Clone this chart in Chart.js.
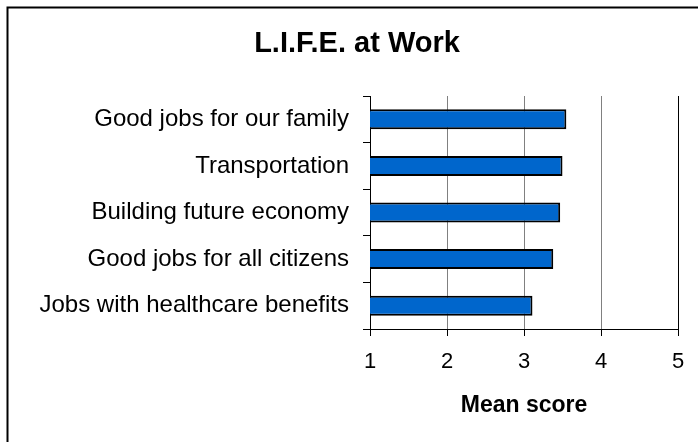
<!DOCTYPE html>
<html>
<head>
<meta charset="utf-8">
<title>L.I.F.E. at Work</title>
<script src="https://cdn.jsdelivr.net/npm/chart.js@4"></script>
<style>
  html, body { margin: 0; padding: 0; background: #fff; }
  canvas { display: block; }
</style>
</head>
<body>
<canvas id="chart" width="698" height="442"></canvas>
<script>
const categories = [
    'Good jobs for our family',
    'Transportation',
    'Building future economy',
    'Good jobs for all citizens',
    'Jobs with healthcare benefits'
];
const meanScores = [3.55, 3.50, 3.47, 3.38, 3.11];
const scoreTicks = [1, 2, 3, 4, 5];

const FONT = "'Liberation Sans', Arial, sans-serif";

// frame + title drawn on the canvas
const framePlugin = {
    id: 'frame',
    beforeDraw(chart) {
        const ctx = chart.ctx;
        ctx.save();
        ctx.fillStyle = '#fff';
        ctx.fillRect(0, 0, chart.width, chart.height);
        ctx.strokeStyle = '#000';
        ctx.lineWidth = 2;
        ctx.strokeRect(7.5, 7.5, 900, 900);
        ctx.fillStyle = '#000';
        ctx.font = 'bold 29px ' + FONT;
        ctx.textAlign = 'center';
        ctx.textBaseline = 'middle';
        ctx.fillText('L.I.F.E. at Work', 357, 44);
        ctx.restore();
    }
};

const ctx = document.getElementById('chart').getContext('2d');
new Chart(ctx, {
    type: 'bar',
    data: {
        labels: categories,
        datasets: [{
            label: 'Mean score',
            data: meanScores,
            backgroundColor: '#0066CC',
            borderColor: '#000',
            borderWidth: 2,
            borderSkipped: 'start',
            categoryPercentage: 1,
            barPercentage: 0.43
        }]
    },
    options: {
        indexAxis: 'y',
        responsive: false,
        animation: false,
        layout: { padding: { top: 96, right: 20, left: 0, bottom: 0 } },
        plugins: {
            legend: { display: false },
            tooltip: { enabled: false },
            title: { display: false }
        },
        scales: {
            x: {
                min: scoreTicks[0],
                max: scoreTicks[scoreTicks.length - 1],
                afterBuildTicks(scale) {
                    scale.ticks = scoreTicks.map(v => ({ value: v }));
                },
                afterFit(scale) { scale.height = 113; },
                grid: {
                    color: c => (c.tick && c.tick.value === 5) ? '#000' : '#808080',
                    tickColor: '#000',
                    tickLength: 7,
                    lineWidth: 1
                },
                border: { display: true, color: '#000', width: 1 },
                ticks: {
                    color: '#000',
                    padding: 13,
                    font: { family: FONT, size: 22 }
                },
                title: {
                    display: true,
                    text: 'Mean score',
                    color: '#000',
                    font: { family: FONT, size: 23, weight: 'bold' },
                    padding: { top: 0, bottom: 23 }
                }
            },
            y: {
                afterFit(scale) { scale.width = 370; },
                grid: {
                    display: true,
                    drawOnChartArea: false,
                    offset: true,
                    color: '#000',
                    tickLength: 7
                },
                border: { display: true, color: '#000', width: 1 },
                ticks: {
                    color: '#000',
                    padding: 14,
                    font: { family: FONT, size: 24 }
                }
            }
        }
    },
    plugins: [framePlugin]
});
</script>
</body>
</html>
